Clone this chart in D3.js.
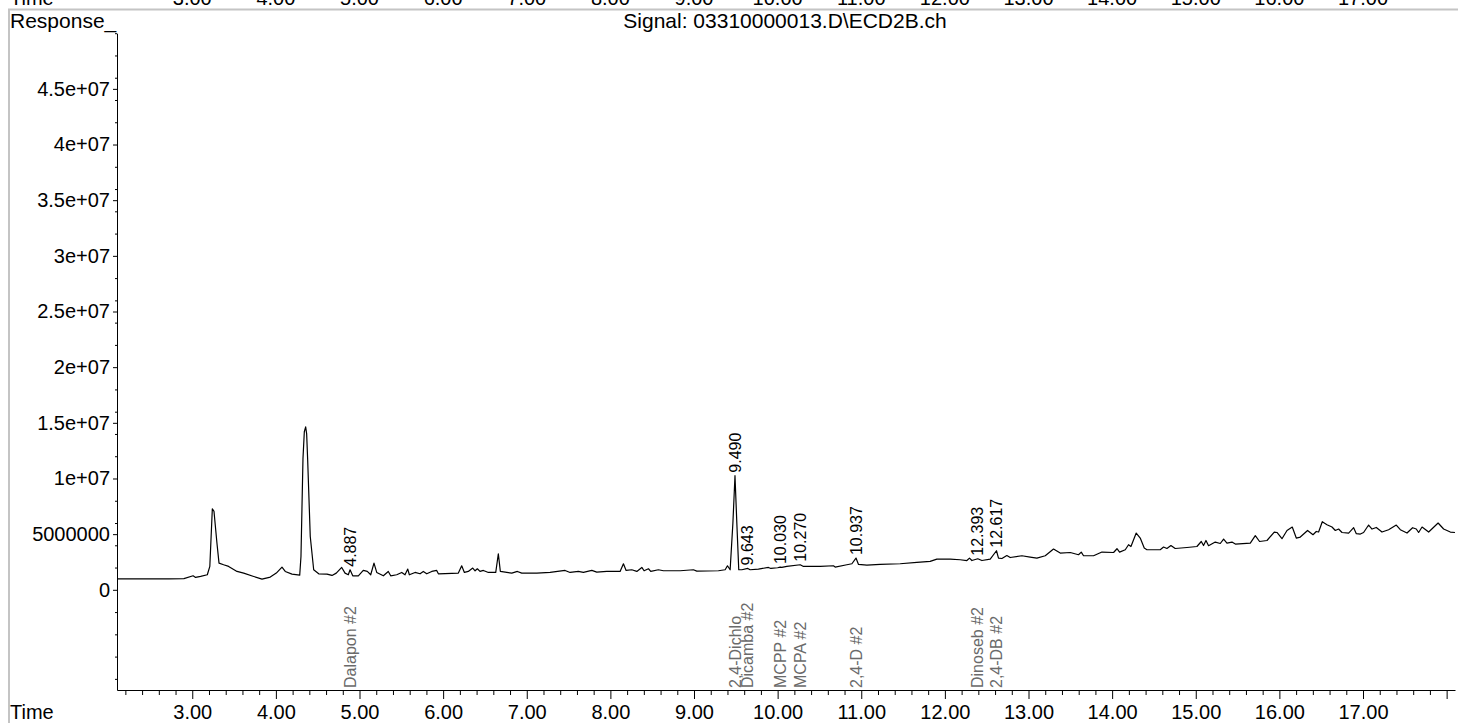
<!DOCTYPE html>
<html>
<head>
<meta charset="utf-8">
<script src="https://cdn.jsdelivr.net/npm/d3@7"></script>
<style>
  html, body { margin: 0; padding: 0; background: #fff; }
  svg { display: block; font-family: "Liberation Sans", Arial, Helvetica, sans-serif; }
</style>
</head>
<body>
<svg id="chart" width="1458" height="723"></svg>
<script>
// ECD detector trace: retention time (min) and response (counts)
const times = [
  2.10, 2.72, 2.90, 3.01, 3.04, 3.10, 3.18, 3.21, 3.24, 3.26, 3.295, 3.32, 3.375, 3.435, 3.535, 3.615,
  3.735, 3.834, 3.933, 4.005, 4.073, 4.112, 4.193, 4.285, 4.300, 4.324, 4.340, 4.356, 4.368, 4.380, 4.411, 4.452,
  4.512, 4.611, 4.671, 4.722, 4.787, 4.827, 4.866, 4.887, 4.919, 4.986, 5.045, 5.093, 5.134, 5.173,
  5.206, 5.285, 5.344, 5.373, 5.445, 5.505, 5.544, 5.577, 5.596, 5.664, 5.724, 5.763, 5.804, 5.864,
  5.923, 5.943, 6.182, 6.222, 6.254, 6.301, 6.354, 6.382, 6.409, 6.441, 6.481, 6.541, 6.629, 6.660,
  6.684, 6.761, 6.821, 6.888, 6.940, 7.120, 7.279, 7.458, 7.518, 7.617, 7.677, 7.778, 7.837, 7.957,
  8.116, 8.156, 8.188, 8.256, 8.316, 8.376, 8.403, 8.455, 8.483, 8.574, 8.634, 8.834, 8.993, 9.033,
  9.292, 9.372, 9.400, 9.432, 9.465, 9.490, 9.512, 9.535, 9.572, 9.643, 9.671, 9.770, 9.890, 9.919,
  10.000, 10.030, 10.050, 10.110, 10.270, 10.309, 10.509, 10.667, 10.688, 10.828, 10.888, 10.937,
  10.967, 11.067, 11.226, 11.465, 11.665, 11.824, 11.904, 12.063, 12.183, 12.263, 12.294, 12.323,
  12.393, 12.443, 12.542, 12.617, 12.641, 12.682, 12.741, 12.781, 12.921, 13.020, 13.100, 13.200,
  13.299, 13.379, 13.499, 13.598, 13.631, 13.658, 13.778, 13.878, 14.017, 14.058, 14.089, 14.157,
  14.196, 14.225, 14.288, 14.336, 14.384, 14.416, 14.575, 14.615, 14.655, 14.703, 14.754, 14.895,
  15.014, 15.066, 15.093, 15.122, 15.153, 15.233, 15.293, 15.333, 15.373, 15.433, 15.473, 15.652,
  15.712, 15.763, 15.852, 15.939, 15.971, 16.031, 16.091, 16.154, 16.202, 16.250, 16.337, 16.402,
  16.441, 16.469, 16.513, 16.569, 16.629, 16.669, 16.708, 16.749, 16.828, 16.888, 16.920, 16.968,
  17.007, 17.067, 17.108, 17.159, 17.227, 17.306, 17.398, 17.446, 17.526, 17.593, 17.637, 17.665,
  17.706, 17.785, 17.898, 17.964, 18.044, 18.100
];
const responses = [
  0.99e6, 0.99e6, 1.00e6, 1.26e6, 1.11e6, 1.20e6, 1.35e6, 2.10e6, 7.28e6, 7.04e6, 4.20e6, 2.40e6, 2.25e6, 2.10e6, 1.65e6, 1.50e6,
  1.20e6, 0.96e6, 1.14e6, 1.50e6, 2.04e6, 1.65e6, 1.41e6, 1.32e6, 2.99e6, 11.80e6, 14.20e6, 14.63e6, 14.00e6, 11.69e6, 4.79e6, 1.80e6,
  1.44e6, 1.41e6, 1.29e6, 1.50e6, 2.01e6, 1.50e6, 1.35e6, 1.80e6, 1.26e6, 1.26e6, 1.74e6, 1.65e6, 1.35e6, 2.40e6,
  1.56e6, 1.26e6, 1.65e6, 1.26e6, 1.35e6, 1.56e6, 1.35e6, 1.86e6, 1.35e6, 1.56e6, 1.44e6, 1.65e6, 1.44e6, 1.65e6,
  1.74e6, 1.44e6, 1.50e6, 2.16e6, 1.56e6, 1.65e6, 1.95e6, 1.71e6, 1.89e6, 1.65e6, 1.74e6, 1.56e6, 1.56e6, 3.24e6,
  1.65e6, 1.56e6, 1.50e6, 1.65e6, 1.50e6, 1.50e6, 1.56e6, 1.74e6, 1.56e6, 1.65e6, 1.56e6, 1.74e6, 1.59e6, 1.65e6,
  1.65e6, 2.34e6, 1.74e6, 1.80e6, 1.65e6, 2.01e6, 1.71e6, 1.89e6, 1.65e6, 1.80e6, 1.71e6, 1.71e6, 1.80e6, 1.68e6,
  1.71e6, 1.80e6, 2.16e6, 1.80e6, 6.00e6, 10.25e6, 6.00e6, 1.80e6, 1.80e6, 1.92e6, 1.80e6, 1.86e6, 2.01e6, 1.92e6,
  1.98e6, 2.04e6, 2.01e6, 2.10e6, 2.25e6, 2.10e6, 2.10e6, 2.16e6, 2.04e6, 2.25e6, 2.34e6, 2.85e6,
  2.28e6, 2.22e6, 2.28e6, 2.34e6, 2.46e6, 2.55e6, 2.76e6, 2.76e6, 2.70e6, 2.63e6, 2.85e6, 2.63e6,
  2.79e6, 2.63e6, 2.76e6, 3.51e6, 2.85e6, 2.81e6, 3.08e6, 2.90e6, 3.06e6, 2.94e6, 2.85e6, 3.06e6,
  3.66e6, 3.30e6, 3.35e6, 3.15e6, 3.39e6, 3.06e6, 3.06e6, 3.39e6, 3.35e6, 3.69e6, 3.39e6, 3.60e6,
  4.05e6, 3.89e6, 5.10e6, 4.65e6, 3.75e6, 3.60e6, 3.60e6, 3.84e6, 3.71e6, 3.98e6, 3.71e6, 3.80e6,
  3.89e6, 4.34e6, 3.98e6, 4.43e6, 3.96e6, 4.29e6, 4.16e6, 4.56e6, 4.20e6, 4.29e6, 4.11e6, 4.20e6,
  4.86e6, 4.34e6, 4.43e6, 5.19e6, 5.15e6, 4.59e6, 5.33e6, 5.64e6, 4.65e6, 4.74e6, 5.33e6, 4.95e6,
  5.24e6, 5.19e6, 6.12e6, 5.85e6, 5.64e6, 5.33e6, 5.46e6, 5.15e6, 5.10e6, 5.58e6, 5.04e6, 5.01e6,
  5.15e6, 5.82e6, 5.46e6, 5.60e6, 5.19e6, 5.40e6, 5.82e6, 5.40e6, 5.10e6, 5.58e6, 5.46e6, 5.15e6,
  5.64e6, 5.19e6, 6.00e6, 5.46e6, 5.19e6, 5.15e6
];

// Integrated peaks and identified compounds
const peakTimes = [4.887, 9.490, 9.643, 10.030, 10.270, 10.937, 12.393, 12.617];
const peakLabels = ["4.887", "9.490", "9.643", "10.030", "10.270", "10.937", "12.393", "12.617"];
const compoundTimes = [4.887, 9.490, 9.643, 10.030, 10.270, 10.937, 12.393, 12.617];
const compoundNames = ["Dalapon #2", "2,4-Dichlo", "Dicamba #2", "MCPP #2", "MCPA #2", "2,4-D #2", "Dinoseb #2", "2,4-DB #2"];

// Axis ticks
const xTickValues = [3, 4, 5, 6, 7, 8, 9, 10, 11, 12, 13, 14, 15, 16, 17];
const xTickLabels = ["3.00", "4.00", "5.00", "6.00", "7.00", "8.00", "9.00", "10.00", "11.00", "12.00", "13.00", "14.00", "15.00", "16.00", "17.00"];
const yTickValues = [0, 5e6, 1e7, 1.5e7, 2e7, 2.5e7, 3e7, 3.5e7, 4e7, 4.5e7];
const yTickLabels = ["0", "5000000", "1e+07", "1.5e+07", "2e+07", "2.5e+07", "3e+07", "3.5e+07", "4e+07", "4.5e+07"];
const signalTitle = "Signal: 03310000013.D\\ECD2B.ch";

const svg = d3.select("#chart");
const x = d3.scaleLinear().domain([2.1, 18.1]).range([117, 1455]);
const y = d3.scaleLinear().domain([-9e6, 5e7]).range([690, 33.2]);

// Report frame (page separator from the previous panel)
svg.append("line").attr("x1", 8).attr("x2", 1458).attr("y1", 9.5).attr("y2", 9.5)
  .attr("stroke", "#c4c4c4").attr("stroke-width", 2);
svg.append("line").attr("x1", 9).attr("x2", 9).attr("y1", 9).attr("y2", 723)
  .attr("stroke", "#c4c4c4").attr("stroke-width", 2);

// Time axis labels of the panel above, cut by the page edge
const topRow = svg.append("g").attr("font-size", 20).attr("fill", "#000");
topRow.append("text").attr("x", 10).attr("y", 5).text("Time");
topRow.selectAll("text.tl").data(xTickValues).join("text").attr("class", "tl")
  .attr("x", d => x(d)).attr("y", 5).attr("text-anchor", "middle")
  .text((d, i) => xTickLabels[i]);

// Headers
svg.append("text").attr("x", 10).attr("y", 28).attr("font-size", 21).text("Response_");
svg.append("text").attr("x", 785).attr("y", 28).attr("font-size", 21)
  .attr("text-anchor", "middle").text(signalTitle);

// Y axis
const yAxis = svg.append("g").attr("transform", "translate(117,0)")
  .call(d3.axisLeft(y).tickValues(yTickValues)
    .tickFormat((d, i) => yTickLabels[i]).tickSize(4).tickSizeOuter(0).tickPadding(3));
yAxis.selectAll("text").attr("font-size", 20).attr("font-family", null);
const yMinor = d3.range(-8e6, 5e7 + 1, 2e6).filter(v => yTickValues.indexOf(v) < 0);
svg.append("g").attr("transform", "translate(117,0)")
  .call(d3.axisLeft(y).tickValues(yMinor).tickFormat("").tickSize(2).tickSizeOuter(0))
  .call(g => g.select(".domain").remove());

// X axis
const xAxis = svg.append("g").attr("transform", "translate(0,690)")
  .call(d3.axisBottom(x).tickValues(xTickValues.concat([18]))
    .tickFormat((d, i) => xTickLabels[i] || "").tickSize(9).tickSizeOuter(0));
xAxis.selectAll("text").attr("font-size", 20).attr("font-family", null).attr("y", 29).attr("dy", 0);
const xMinor = d3.range(22, 181, 2).map(v => v / 10).filter(v => Math.abs(v - Math.round(v)) > 1e-9);
svg.append("g").attr("transform", "translate(0,690)")
  .call(d3.axisBottom(x).tickValues(xMinor).tickFormat("").tickSize(5).tickSizeOuter(0))
  .call(g => g.select(".domain").remove());
svg.append("text").attr("x", 10).attr("y", 719).attr("font-size", 20).text("Time");

// Signal trace
const points = times.map((t, i) => ({ t, v: responses[i] }));
svg.append("path").datum(points)
  .attr("fill", "none").attr("stroke", "#000").attr("stroke-width", 1.2)
  .attr("stroke-linejoin", "round")
  .attr("d", d3.line().x(d => x(d.t)).y(d => y(d.v)));

// Retention time labels above each integrated peak
const valueAt = t => {
  const i = d3.bisector(d => d.t).left(points, t);
  const a = points[Math.max(0, i - 1)], b = points[Math.min(points.length - 1, i)];
  if (b.t === a.t) return b.v;
  return a.v + (b.v - a.v) * (t - a.t) / (b.t - a.t);
};
svg.append("g").selectAll("text").data(peakTimes).join("text")
  .attr("transform", d => `translate(${x(d)},${y(valueAt(d)) - 3}) rotate(-90)`)
  .attr("dy", "0.35em").attr("font-size", 16).attr("fill", "#000")
  .text((d, i) => peakLabels[i]);

// Compound names along the bottom
svg.append("g").selectAll("text").data(compoundTimes).join("text")
  .attr("transform", d => `translate(${x(d)},688) rotate(-90)`)
  .attr("dy", "0.35em").attr("font-size", 16).attr("fill", "#6a6a6a")
  .text((d, i) => compoundNames[i]);
</script>
</body>
</html>
